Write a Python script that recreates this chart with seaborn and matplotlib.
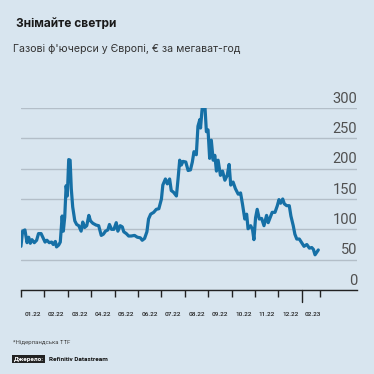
import matplotlib
matplotlib.use("Agg")
import matplotlib.pyplot as plt
import matplotlib.transforms as mtransforms
import seaborn as sns
import pandas as pd

# months since 1 Jan 2022 and TTF price, EUR/MWh
months = [0.00, 0.07, 0.17, 0.26, 0.33, 0.40, 0.47, 0.57, 0.67, 0.75, 0.86, 0.96,
          1.03, 1.11, 1.21, 1.31, 1.38, 1.47, 1.52, 1.61, 1.68, 1.76, 1.81, 1.87,
          1.93, 1.98, 2.04, 2.10, 2.15, 2.21, 2.30, 2.38, 2.47, 2.57, 2.64, 2.72,
          2.81, 2.90, 2.97, 3.07, 3.21, 3.32, 3.43, 3.52, 3.61, 3.71, 3.78, 3.87,
          3.97, 4.07, 4.14, 4.24, 4.33, 4.39, 4.50, 4.60, 4.71, 4.85, 4.97, 5.10,
          5.18, 5.28, 5.38, 5.45, 5.54, 5.67, 5.78, 5.89, 6.00, 6.06, 6.17, 6.25,
          6.35, 6.42, 6.52, 6.64, 6.71, 6.78, 6.85, 6.92, 7.04, 7.14, 7.24, 7.32,
          7.39, 7.49, 7.56, 7.64, 7.67, 7.73, 7.78, 7.85, 7.92, 7.99, 8.06, 8.13,
          8.21, 8.28, 8.35, 8.42, 8.52, 8.61, 8.71, 8.81, 8.89, 8.96, 9.06, 9.16,
          9.28, 9.38, 9.46, 9.56, 9.64, 9.70, 9.81, 9.89, 9.95, 10.02, 10.09, 10.18,
          10.28, 10.38, 10.49, 10.56, 10.63, 10.73, 10.85, 10.95, 11.02, 11.09, 11.18, 11.25,
          11.35, 11.46, 11.53, 11.63, 11.70, 11.78, 11.89, 11.99, 12.09, 12.21, 12.32, 12.42,
          12.49, 12.56, 12.63, 12.70]
price = [72, 97, 99, 78, 87, 77, 83, 78, 82, 93, 93, 85,
         79, 82, 78, 79, 75, 80, 71, 74, 79, 122, 97, 120,
         172, 155, 215, 214, 167, 137, 114, 108, 106, 97, 112, 103,
         106, 123, 114, 110, 107, 106, 90, 92, 97, 99, 108, 100,
         100, 111, 97, 106, 104, 96, 93, 89, 89, 90, 87, 86,
         82, 85, 96, 117, 125, 128, 133, 134, 150, 173, 183, 175,
         183, 164, 161, 155, 183, 214, 206, 212, 211, 197, 198, 211,
         228, 223, 270, 281, 267, 295, 312, 308, 261, 264, 217, 247,
         214, 222, 196, 214, 189, 196, 181, 189, 207, 173, 178, 167,
         158, 160, 142, 117, 125, 101, 106, 100, 83, 119, 133, 117,
         118, 106, 123, 111, 118, 128, 128, 139, 149, 143, 150, 142,
         139, 139, 122, 106, 92, 84, 84, 78, 72, 75, 69, 70,
         67, 58, 62, 66]

month_labels = ["01.22", "02.22", "03.22", "04.22", "05.22", "06.22", "07.22",
                "08.22", "09.22", "10.22", "11.22", "12.22", "02.23"]
label_pos = [0.5, 1.5, 2.5, 3.5, 4.5, 5.5, 6.5, 7.5, 8.5, 9.5, 10.5, 11.5, 12.45]
tick_pos = [0, 1, 2, 3, 4, 5, 6, 7, 8, 9, 10, 11, 12.78]
year_tick = 12
y_ticks = [0, 50, 100, 150, 200, 250, 300]

bg = "#d8e5ef"
line_c = "#1670a6"

sns.set_style("white")
plt.rcParams["font.family"] = ["Roboto", "DejaVu Sans"]

df = pd.DataFrame({"month": months, "price": price})

fig = plt.figure(figsize=(3.74, 3.74), dpi=100, facecolor=bg)
ax = fig.add_axes([0.056, 0.2246, 0.899, 0.4866], facecolor=bg)

sns.lineplot(data=df, x="month", y="price", color=line_c, linewidth=2.3, ax=ax, zorder=3)

ax.set_xlim(0, 14.36)
ax.set_ylim(0, 300)
ax.set_xlabel("")
ax.set_ylabel("")

ax.set_yticks(y_ticks)
ax.yaxis.grid(True, color="#b3bec8", linewidth=1.0)
ax.tick_params(axis="y", length=0, labelleft=False)
for v in y_ticks:
    ax.text(14.36, v + 4, str(v), ha="right", va="bottom", fontsize=10.5,
            color="#505050")

for s in ["top", "right", "left"]:
    ax.spines[s].set_visible(False)
ax.spines["bottom"].set_color("#222222")
ax.spines["bottom"].set_linewidth(1.0)

ax.set_xticks(tick_pos)
ax.tick_params(axis="x", bottom=True, direction="out", length=5, width=1,
               color="#222222", labelbottom=False)
ax.axvline(year_tick, ymin=-0.065, ymax=0, color="#222222", linewidth=1, clip_on=False)

trans = mtransforms.blended_transform_factory(ax.transData, ax.transAxes)
for p, lab in zip(label_pos, month_labels):
    ax.text(p, -0.133, lab, transform=trans, ha="center", va="center",
            fontsize=4.6, color="#222222", fontweight="medium")

fig.text(0.043, 0.936, "Знімайте светри", fontsize=8.6, fontweight="bold",
         color="#1a1a1a", va="center", family=["Inter", "DejaVu Sans"])
fig.text(0.036, 0.870, "Газові ф'ючерси у Європі, € за мегават-год", fontsize=7.6,
         color="#333333", va="center", family=["Inter", "DejaVu Sans"])

fig.text(0.035, 0.083, "*Нідерландська TTF", fontsize=4.3, color="#444444", va="center")
fig.text(0.037, 0.040, "Джерело:", fontsize=4.6, color="white", va="center",
         fontweight="bold", bbox=dict(boxstyle="square,pad=0.25", fc="#222222", ec="none"))
fig.text(0.131, 0.040, "Refinitiv Datastream", fontsize=4.6, color="#111111",
         va="center", fontweight="bold")

fig.savefig("out.png", dpi=100, facecolor=bg)
